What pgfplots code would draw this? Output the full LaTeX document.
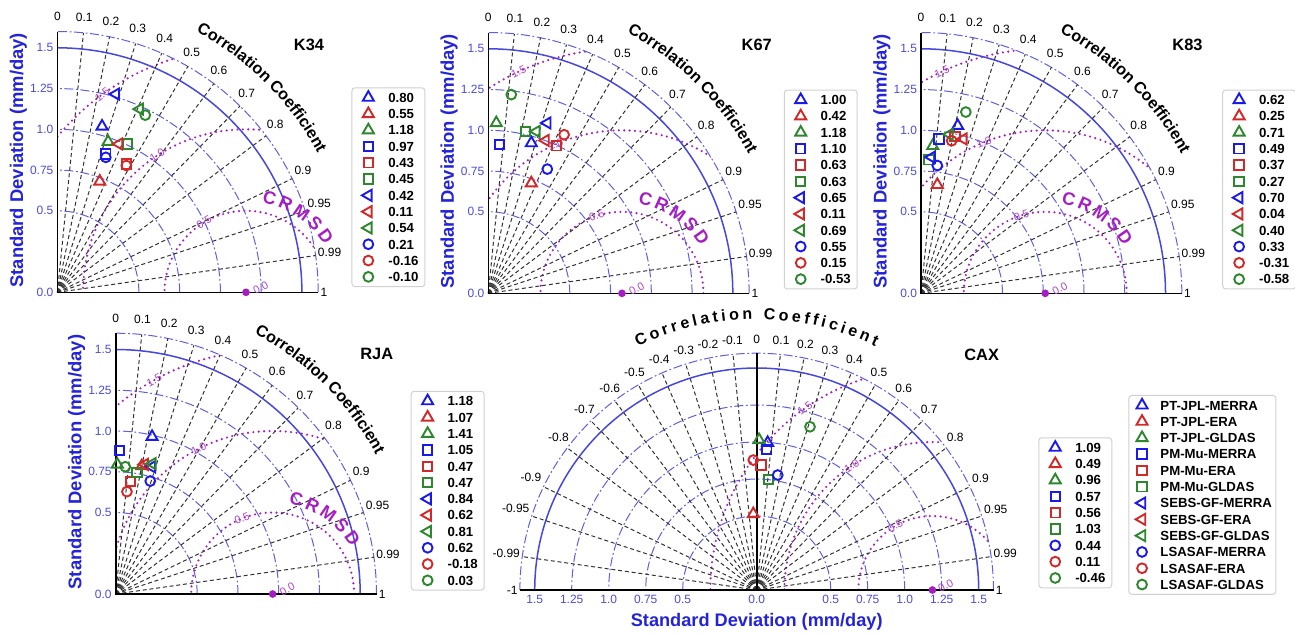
\documentclass[border=0pt]{standalone}
\usepackage{fontspec}
\setmainfont{Liberation Sans}
\usepackage{pgfplots}
\pgfplotsset{compat=1.18}
\usetikzlibrary{decorations.text}

\definecolor{arcblue}{RGB}{95,95,230}
\definecolor{solidblue}{RGB}{70,70,225}
\definecolor{tickblue}{RGB}{75,75,225}
\definecolor{labblue}{RGB}{35,35,215}
\definecolor{rmsc}{RGB}{165,30,195}
\definecolor{rmslab}{RGB}{175,70,200}
\definecolor{mblue}{RGB}{25,25,235}
\definecolor{mred}{RGB}{210,40,40}
\definecolor{mgreen}{RGB}{45,135,45}

\newcommand\fs[1]{\fontsize{#1}{#1}\selectfont}

\tikzset{
  stdarc/.style={arcblue, line width=0.5pt, dash pattern=on 4.5pt off 1.3pt on 0.9pt off 1.3pt},
  stdsolid/.style={solidblue, line width=0.75pt},
  corline/.style={black!80, line width=0.5pt, dash pattern=on 2pt off 1.4pt},
  rmsarc/.style={rmsc, line width=1.2pt, dash pattern=on 0pt off 2.7pt, line cap=round},
  tick/.style={font=\fs{6}, inner sep=1pt},
}

\def\legL{5pt}\def\legR{10pt}
\pgfplotsset{
  mk/.style={only marks, line width=0.95pt, mark options={solid},
    legend image code/.code={\path[draw=none,fill=none] (-\legL,-3.4pt) rectangle (\legR,3.4pt);
      \draw[##1] plot coordinates {(0pt,0pt)};}},
  tA/.style={mk, mark=triangle, mark size=3.2pt},
  sQ/.style={mk, mark=square, mark size=2.35pt},
  lT/.style={mk, mark=triangle, mark size=3.2pt, mark options={solid,rotate=90}},
  cO/.style={mk, mark=o, mark size=2.45pt},
  refpt/.style={only marks, mark=*, mark size=1.7pt, color=rmsc, forget plot},
  taylor/.style={anchor=origin, hide axis, clip=false, ymin=0, ymax=1.6,
    legend cell align=left,
    legend style={anchor=north west, draw=black!18, line width=0.5pt, rounded corners=1.5pt,
      font=\bfseries\fs{6.6}, inner xsep=3.2pt, inner ysep=1.5pt, row sep=1.35pt, column sep=0pt,
      nodes={inner sep=0pt, text height=4.8pt, text depth=0pt}}},
}

% CRMSD contour labels: ref std, angles of the 0.5, 1.0 and 1.5 labels
\newcommand\rmslabels[4]{%
  \foreach \rr/\aa in {0.5/#2,1.0/#3,1.5/#4}{
    \pgfmathsetmacro\rot{\aa-90}
    \path (#1,0) ++(\aa:\rr) node[font=\fs{5.5}, text=rmslab, rotate=\rot, inner sep=0pt] {\rr};
  }
  \node[font=\fs{5.5}, text=rmslab, rotate=28, inner sep=0pt] at (#1+0.09,0.03) {0.0};
}

% quarter Taylor grid: origin, ref std, label angles
\newcommand\quarter[5]{%
\begin{scope}[shift={#1}, x=81.5pt, y=81.5pt]
  \begin{scope}
    \clip (0,0) -- (1.6,0) arc[start angle=0,end angle=90,radius=1.6] -- cycle;
    \foreach \rr in {0.5,1.0,1.5} \draw[rmsarc] (#2,0) circle[radius=\rr];
  \end{scope}
  \foreach \rr in {0.5,0.75,1.0,1.25,1.6}
    \draw[stdarc] (\rr,0) arc[start angle=0,end angle=90,radius=\rr];
  \draw[stdsolid] (1.5,0) arc[start angle=0,end angle=90,radius=1.5];
  \foreach \c in {0.1,0.2,0.3,0.4,0.5,0.6,0.7,0.8,0.9,0.95,0.99}{
    \pgfmathsetmacro\ang{acos(\c)}
    \pgfmathsetmacro\anc{\ang+180}
    \pgfmathsetmacro\ysh{4.3*sin(\ang)}
    \draw[corline] (0,0) -- (\ang:1.6);
    \node[tick, anchor=\anc, yshift=\ysh pt] at (\ang:1.6) {\c};
  }
  \node[tick, anchor=south, yshift=4.3pt] at (0,1.6) {0};
  \node[tick, anchor=west] at (1.6,0) {1};
  \draw[black, line width=0.8pt] (0,1.6) -- (0,0) -- (1.6,0);
  \foreach \yy/\t in {0/0.0,0.5/0.5,0.75/0.75,1/1.0,1.25/1.25,1.5/1.5}
    \node[tick, text=tickblue, anchor=east] at (-0.01,\yy) {\t};
  \node[rotate=90, font=\bfseries\fs{9.2}, text=labblue] at (-0.24,0.81) {Standard Deviation (mm/day)};
  \path[decorate, decoration={text along path, text align=center,
      text={|\bfseries\fs{8.1}|Correlation Coefficient}}] (64:1.81) arc[start angle=64,end angle=26,radius=1.81];
  \path[decorate, decoration={text along path, text align=fit to path, text color=rmsc,
      text={|\bfseries\fs{9}|CRMSD}}] ([shift={(80:0.56)}]#2,0) arc[start angle=80,end angle=31,radius=0.56];
  \rmslabels{#2}{#3}{#4}{#5}
\end{scope}}

\begin{document}
\begin{tikzpicture}
\useasboundingbox (0,0) rectangle (647.5pt,-317pt);

\quarter{(28.7pt,-146.15pt)}{1.157}{121}{123}{126}
\quarter{(244.15pt,-146.65pt)}{0.82}{108}{114}{115}
\quarter{(460.5pt,-146.65pt)}{0.762}{107}{112}{115}
\quarter{(57.85pt,-297pt)}{0.963}{112}{117}{119}

% CAX half diagram
\begin{scope}[shift={(378.35pt,-295pt)}, x=74pt, y=74pt]
  \begin{scope}
    \clip (-1.6,0) arc[start angle=180,end angle=0,radius=1.6] -- cycle;
    \foreach \rr in {0.5,1.0,1.5} \draw[rmsarc] (1.187,0) circle[radius=\rr];
  \end{scope}
  \foreach \rr in {0.5,0.75,1.0,1.25,1.6}
    \draw[stdarc] (\rr,0) arc[start angle=0,end angle=180,radius=\rr];
  \draw[stdsolid] (1.5,0) arc[start angle=0,end angle=180,radius=1.5];
  \foreach \c in {-0.99,-0.95,-0.9,-0.8,-0.7,-0.6,-0.5,-0.4,-0.3,-0.2,-0.1,0.1,0.2,0.3,0.4,0.5,0.6,0.7,0.8,0.9,0.95,0.99}{
    \pgfmathsetmacro\ang{acos(\c)}
    \pgfmathsetmacro\anc{\ang+180}
    \pgfmathsetmacro\ysh{3.6*sin(\ang)}
    \draw[corline] (0,0) -- (\ang:1.6);
    \node[tick, anchor=\anc, yshift=\ysh pt] at (\ang:1.6) {\c};
  }
  \node[tick, anchor=south, yshift=3.6pt] at (0,1.6) {0};
  \node[tick, anchor=west] at (1.6,0) {1};
  \node[tick, anchor=east] at (-1.6,0) {-1};
  \draw[black, line width=0.8pt] (-1.6,0) -- (1.6,0) (0,0) -- (0,1.6);
  \foreach \xx/\t in {-1.5/1.5,-1.25/1.25,-1/1.0,-0.75/0.75,-0.5/0.5,0/0.0,0.5/0.5,0.75/0.75,1/1.0,1.25/1.25,1.5/1.5}
    \node[tick, text=tickblue, anchor=north] at (\xx,-0.02) {\t};
  \node[font=\bfseries\fs{9.1}, text=labblue] at (0,-0.214) {Standard Deviation (mm/day)};
  \path[decorate, decoration={text along path, text align=fit to path,
      text={|\bfseries\fs{8}|Correlation Coefficient}}] (116:1.83) arc[start angle=116,end angle=64,radius=1.83];
  \rmslabels{1.187}{120}{123}{125}
\end{scope}

% titles
\node[font=\bfseries\fs{8.2}] at (154.5pt,-22.5pt) {K34};
\node[font=\bfseries\fs{8.2}] at (378.35pt,-22.5pt) {K67};
\node[font=\bfseries\fs{8.2}] at (593.75pt,-22.5pt) {K83};
\node[font=\bfseries\fs{8.2}] at (188.35pt,-177.15pt) {RJA};
\node[font=\bfseries\fs{8.2}] at (490.85pt,-177.5pt) {CAX};

% ---- K34
\begin{axis}[taylor, at={(28.7pt,-146.15pt)}, x=81.5pt, y=81.5pt, xmin=0, xmax=1.6,
  legend style={at={(axis cs:1.804,1.258)}}]
\addplot[refpt] coordinates {(1.157,0)};
\addplot[tA,color=mblue]  coordinates {(0.274,1.018)}; \addlegendentry{0.80}
\addplot[tA,color=mred]   coordinates {(0.260,0.680)}; \addlegendentry{0.55}
\addplot[tA,color=mgreen] coordinates {(0.311,0.924)}; \addlegendentry{1.18}
\addplot[sQ,color=mblue]  coordinates {(0.297,0.849)}; \addlegendentry{0.97}
\addplot[sQ,color=mred]   coordinates {(0.423,0.788)}; \addlegendentry{0.43}
\addplot[sQ,color=mgreen] coordinates {(0.429,0.910)}; \addlegendentry{0.45}
\addplot[lT,color=mblue]  coordinates {(0.358,1.216)}; \addlegendentry{0.42}
\addplot[lT,color=mred]   coordinates {(0.378,0.910)}; \addlegendentry{0.11}
\addplot[lT,color=mgreen] coordinates {(0.505,1.124)}; \addlegendentry{0.54}
\addplot[cO,color=mblue]  coordinates {(0.297,0.828)}; \addlegendentry{0.21}
\addplot[cO,color=mred]   coordinates {(0.423,0.778)}; \addlegendentry{-0.16}
\addplot[cO,color=mgreen] coordinates {(0.539,1.087)}; \addlegendentry{-0.10}
\end{axis}

% ---- K67
\begin{axis}[taylor, at={(244.15pt,-146.65pt)}, x=81.5pt, y=81.5pt, xmin=0, xmax=1.6,
  legend style={at={(axis cs:1.813,1.25)}}]
\addplot[refpt] coordinates {(0.82,0)};
\addplot[tA,color=mblue]  coordinates {(0.264,0.922)}; \addlegendentry{1.00}
\addplot[tA,color=mred]   coordinates {(0.264,0.676)}; \addlegendentry{0.42}
\addplot[tA,color=mgreen] coordinates {(0.049,1.045)}; \addlegendentry{1.18}
\addplot[sQ,color=mblue]  coordinates {(0.070,0.912)}; \addlegendentry{1.10}
\addplot[sQ,color=mred]   coordinates {(0.418,0.905)}; \addlegendentry{0.63}
\addplot[sQ,color=mgreen] coordinates {(0.227,0.993)}; \addlegendentry{0.63}
\addplot[lT,color=mblue]  coordinates {(0.362,1.045)}; \addlegendentry{0.65}
\addplot[lT,color=mred]   coordinates {(0.351,0.938)}; \addlegendentry{0.11}
\addplot[lT,color=mgreen] coordinates {(0.295,0.993)}; \addlegendentry{0.69}
\addplot[cO,color=mblue]  coordinates {(0.362,0.762)}; \addlegendentry{0.55}
\addplot[cO,color=mred]   coordinates {(0.465,0.973)}; \addlegendentry{0.15}
\addplot[cO,color=mgreen] coordinates {(0.141,1.219)}; \addlegendentry{-0.53}
\end{axis}

% ---- K83
\begin{axis}[taylor, at={(460.5pt,-146.65pt)}, x=81.5pt, y=81.5pt, xmin=0, xmax=1.6,
  legend style={at={(axis cs:1.848,1.25)}}]
\addplot[refpt] coordinates {(0.762,0)};
\addplot[tA,color=mblue]  coordinates {(0.225,1.028)}; \addlegendentry{0.62}
\addplot[tA,color=mred]   coordinates {(0.100,0.666)}; \addlegendentry{0.25}
\addplot[tA,color=mgreen] coordinates {(0.072,0.905)}; \addlegendentry{0.71}
\addplot[sQ,color=mblue]  coordinates {(0.111,0.947)}; \addlegendentry{0.49}
\addplot[sQ,color=mred]   coordinates {(0.209,0.963)}; \addlegendentry{0.37}
\addplot[sQ,color=mgreen] coordinates {(0.049,0.819)}; \addlegendentry{0.27}
\addplot[lT,color=mblue]  coordinates {(0.065,0.835)}; \addlegendentry{0.70}
\addplot[lT,color=mred]   coordinates {(0.260,0.947)}; \addlegendentry{0.04}
\addplot[lT,color=mgreen] coordinates {(0.175,0.975)}; \addlegendentry{0.40}
\addplot[cO,color=mblue]  coordinates {(0.100,0.784)}; \addlegendentry{0.33}
\addplot[cO,color=mred]   coordinates {(0.188,0.936)}; \addlegendentry{-0.31}
\addplot[cO,color=mgreen] coordinates {(0.275,1.112)}; \addlegendentry{-0.58}
\end{axis}

% ---- RJA
\begin{axis}[taylor, at={(57.85pt,-297pt)}, x=81.5pt, y=81.5pt, xmin=0, xmax=1.6,
  legend style={at={(axis cs:1.81,1.247)}}]
\addplot[refpt] coordinates {(0.963,0)};
\addplot[tA,color=mblue]  coordinates {(0.223,0.965)}; \addlegendentry{1.18}
\addplot[tA,color=mred]   coordinates {(0.160,0.785)}; \addlegendentry{1.07}
\addplot[tA,color=mgreen] coordinates {(0.010,0.795)}; \addlegendentry{1.41}
\addplot[sQ,color=mblue]  coordinates {(0.022,0.879)}; \addlegendentry{1.05}
\addplot[sQ,color=mred]   coordinates {(0.090,0.689)}; \addlegendentry{0.47}
\addplot[sQ,color=mgreen] coordinates {(0.131,0.747)}; \addlegendentry{0.47}
\addplot[lT,color=mblue]  coordinates {(0.222,0.780)}; \addlegendentry{0.84}
\addplot[lT,color=mred]   coordinates {(0.178,0.795)}; \addlegendentry{0.62}
\addplot[lT,color=mgreen] coordinates {(0.225,0.800)}; \addlegendentry{0.81}
\addplot[cO,color=mblue]  coordinates {(0.212,0.693)}; \addlegendentry{0.62}
\addplot[cO,color=mred]   coordinates {(0.069,0.628)}; \addlegendentry{-0.18}
\addplot[cO,color=mgreen] coordinates {(0.059,0.781)}; \addlegendentry{0.03}
\end{axis}

% ---- CAX
\begin{axis}[taylor, at={(378.35pt,-295pt)}, x=74pt, y=74pt, xmin=-1.6, xmax=1.6,
  legend style={at={(axis cs:1.903,1.032)}}]
\addplot[refpt] coordinates {(1.187,0)};
\addplot[tA,color=mblue]  coordinates {(0.074,0.995)}; \addlegendentry{1.09}
\addplot[tA,color=mred]   coordinates {(-0.023,0.514)}; \addlegendentry{0.49}
\addplot[tA,color=mgreen] coordinates {(0.016,1.014)}; \addlegendentry{0.96}
\addplot[sQ,color=mblue]  coordinates {(0.068,0.951)}; \addlegendentry{0.57}
\addplot[sQ,color=mred]   coordinates {(0.029,0.845)}; \addlegendentry{0.56}
\addplot[sQ,color=mgreen] coordinates {(0.079,0.748)}; \addlegendentry{1.03}
\addplot[cO,color=mblue]  coordinates {(0.142,0.777)}; \addlegendentry{0.44}
\addplot[cO,color=mred]   coordinates {(-0.023,0.878)}; \addlegendentry{0.11}
\addplot[cO,color=mgreen] coordinates {(0.360,1.103)}; \addlegendentry{-0.46}
\end{axis}

% ---- shared legend of the products
\def\legL{4.6pt}\def\legR{9.2pt}
\begin{axis}[taylor, at={(378.35pt,-295pt)}, x=74pt, y=74pt, xmin=-1.6, xmax=1.6,
  legend style={at={(axis cs:2.511,1.318)}, inner xsep=2pt}]
\addlegendimage{tA,color=mblue}  \addlegendentry{PT-JPL-MERRA}
\addlegendimage{tA,color=mred}   \addlegendentry{PT-JPL-ERA}
\addlegendimage{tA,color=mgreen} \addlegendentry{PT-JPL-GLDAS}
\addlegendimage{sQ,color=mblue}  \addlegendentry{PM-Mu-MERRA}
\addlegendimage{sQ,color=mred}   \addlegendentry{PM-Mu-ERA}
\addlegendimage{sQ,color=mgreen} \addlegendentry{PM-Mu-GLDAS}
\addlegendimage{lT,color=mblue}  \addlegendentry{SEBS-GF-MERRA}
\addlegendimage{lT,color=mred}   \addlegendentry{SEBS-GF-ERA}
\addlegendimage{lT,color=mgreen} \addlegendentry{SEBS-GF-GLDAS}
\addlegendimage{cO,color=mblue}  \addlegendentry{LSASAF-MERRA}
\addlegendimage{cO,color=mred}   \addlegendentry{LSASAF-ERA}
\addlegendimage{cO,color=mgreen} \addlegendentry{LSASAF-GLDAS}
\end{axis}
\end{tikzpicture}
\end{document}
